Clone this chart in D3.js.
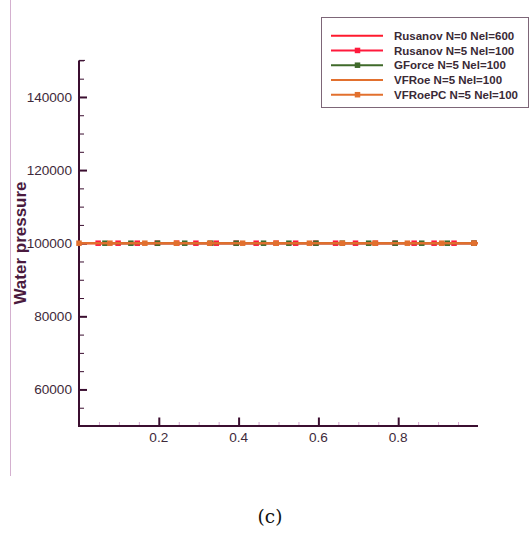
<!DOCTYPE html>
<html>
<head>
<meta charset="utf-8">
<script src="https://cdn.jsdelivr.net/npm/d3@7"></script>
<style>
  html, body { margin: 0; padding: 0; background: #fff; }
  svg { display: block; }
</style>
</head>
<body>
<div id="chart"></div>
<script>
// Water pressure along the domain for each scheme (constant state, p = 1e5)
const seriesNames = [
  "Rusanov N=0 Nel=600",
  "Rusanov N=5 Nel=100",
  "GForce N=5 Nel=100",
  "VFRoe N=5 Nel=100",
  "VFRoePC N=5 Nel=100"
];
const seriesColors = ["#ff1a2e", "#ff1a3c", "#3f6a2a", "#e2702e", "#e2702e"];
const seriesMarkers = [false, true, true, false, true];

// Rusanov N=0 Nel=600 (line only)
const rusanovN0X = [0, 1];
const rusanovN0P = [100000, 100000];

// Rusanov N=5 Nel=100 (marked)
const rusanovN5X = [0.048, 0.098, 0.146, 0.196, 0.245, 0.293, 0.344, 0.394, 0.444, 0.494,
                    0.543, 0.593, 0.643, 0.693, 0.743, 0.792, 0.840, 0.890, 0.940, 0.990];
const rusanovN5P = [100000, 100000, 100000, 100000, 100000, 100000, 100000, 100000, 100000, 100000,
                    100000, 100000, 100000, 100000, 100000, 100000, 100000, 100000, 100000, 100000];

// GForce N=5 Nel=100 (marked)
const gforceX = [0.065, 0.130, 0.197, 0.265, 0.330, 0.394, 0.4625, 0.526, 0.594, 0.660,
                 0.726, 0.7925, 0.859, 0.923, 0.990];
const gforceP = [100000, 100000, 100000, 100000, 100000, 100000, 100000, 100000, 100000, 100000,
                 100000, 100000, 100000, 100000, 100000];

// VFRoe N=5 Nel=100 (line only)
const vfroeX = [0, 1];
const vfroeP = [100000, 100000];

// VFRoePC N=5 Nel=100 (marked)
const vfroepcX = [0, 0.0775, 0.165, 0.244, 0.3275, 0.41, 0.494, 0.5775, 0.66, 0.742,
                  0.823, 0.909, 0.99];
const vfroepcP = [100000, 100000, 100000, 100000, 100000, 100000, 100000, 100000, 100000, 100000,
                  100000, 100000, 100000];

// Axis ticks
const xMajorTicks = [0.2, 0.4, 0.6, 0.8];
const xTickLabels = ["0.2", "0.4", "0.6", "0.8"];
const xMinorTicks = [0.05, 0.1, 0.15, 0.25, 0.3, 0.35, 0.45, 0.5, 0.55, 0.65, 0.7, 0.75, 0.85, 0.9, 0.95];
const yMajorTicks = [60000, 80000, 100000, 120000, 140000];
const yTickLabels = ["60000", "80000", "100000", "120000", "140000"];
const yMinorTicks = [55000, 65000, 70000, 75000, 85000, 90000, 95000, 105000, 110000, 115000,
                     125000, 130000, 135000, 145000, 150000];

const xs = [rusanovN0X, rusanovN5X, gforceX, vfroeX, vfroepcX];
const ps = [rusanovN0P, rusanovN5P, gforceP, vfroeP, vfroepcP];
const series = seriesNames.map((name, i) => ({
  name, color: seriesColors[i], marker: seriesMarkers[i],
  points: xs[i].map((x, j) => ({ x, p: ps[i][j] }))
}));

const W = 530, H = 533;
const svg = d3.select("#chart").append("svg").attr("width", W).attr("height", H);

const x = d3.scaleLinear().domain([0, 1]).range([79, 478]);
const y = d3.scaleLinear().domain([50000, 150000]).range([426, 60.4]);

const axisColor = "#3b0e30";
const labelColor = "#3e2a3a";
const font = "'Liberation Sans', Arial, sans-serif";

// thin frame line on the left edge
svg.append("line").attr("x1", 10.5).attr("x2", 10.5).attr("y1", 0).attr("y2", 476)
  .attr("stroke", "#d4b0cf").attr("stroke-width", 1);

// Y axis: inward ticks, labels drawn separately
const yAxisG = svg.append("g");
yAxisG.append("g").attr("transform", `translate(${x(0)},0)`)
  .call(d3.axisRight(y).tickValues(yMinorTicks).tickSize(5).tickFormat(""))
  .call(g => g.select(".domain").remove())
  .call(g => g.selectAll("line").attr("stroke", axisColor).attr("stroke-width", 1));
yAxisG.append("g").attr("transform", `translate(${x(0)},0)`)
  .call(d3.axisRight(y).tickValues(yMajorTicks).tickSize(8).tickFormat(""))
  .call(g => g.select(".domain").remove())
  .call(g => g.selectAll("line").attr("stroke", axisColor).attr("stroke-width", 2));
yAxisG.selectAll("text.ylab").data(yMajorTicks).join("text")
  .attr("class", "ylab")
  .attr("x", 72).attr("y", d => y(d)).attr("dy", "0.36em")
  .attr("text-anchor", "end")
  .attr("font-family", font).attr("font-size", 13.6)
  .attr("fill", labelColor)
  .text((d, i) => yTickLabels[i]);

// X axis
const xAxisG = svg.append("g");
xAxisG.append("g").attr("transform", `translate(0,${y(50000)})`)
  .call(d3.axisTop(x).tickValues(xMinorTicks).tickSize(4).tickFormat(""))
  .call(g => g.select(".domain").remove())
  .call(g => g.selectAll("line").attr("stroke", "#d9a8d2").attr("stroke-width", 1));
xAxisG.append("g").attr("transform", `translate(0,${y(50000)})`)
  .call(d3.axisTop(x).tickValues(xMajorTicks).tickSize(8.5).tickFormat(""))
  .call(g => g.select(".domain").remove())
  .call(g => g.selectAll("line").attr("stroke", axisColor).attr("stroke-width", 2));
xAxisG.selectAll("text.xlab").data(xMajorTicks).join("text")
  .attr("class", "xlab")
  .attr("x", d => x(d)).attr("y", 442)
  .attr("text-anchor", "middle")
  .attr("font-family", font).attr("font-size", 13.6)
  .attr("fill", labelColor)
  .text((d, i) => xTickLabels[i]);

// axis lines
svg.append("path")
  .attr("d", `M${x(0)},${y(150000)}V${y(50000)}H${x(1)}`)
  .attr("fill", "none").attr("stroke", axisColor).attr("stroke-width", 2);
svg.append("line").attr("x1", x(0)).attr("x2", x(0) + 6)
  .attr("y1", y(150000)).attr("y2", y(150000))
  .attr("stroke", axisColor).attr("stroke-width", 1);

// Y axis title
svg.append("text")
  .attr("transform", `translate(25.5,243) rotate(-90)`)
  .attr("text-anchor", "middle")
  .attr("font-family", font).attr("font-weight", "bold").attr("font-size", 17)
  .attr("fill", "#4a1a3e")
  .text("Water pressure");

// Series
const line = d3.line().x(d => x(d.x)).y(d => y(d.p));
const ms = 5.5;
series.forEach(s => {
  const g = svg.append("g");
  g.append("path").datum(s.points)
    .attr("d", line).attr("fill", "none")
    .attr("stroke", s.color).attr("stroke-width", 2);
  if (s.marker) {
    g.selectAll("rect").data(s.points).join("rect")
      .attr("x", d => x(d.x) - ms / 2).attr("y", d => y(d.p) - ms / 2)
      .attr("width", ms).attr("height", ms)
      .attr("fill", s.color);
  }
});

// Legend
const lg = svg.append("g");
lg.append("rect").attr("x", 321.5).attr("y", 17.5).attr("width", 207).attr("height", 90)
  .attr("fill", "#fff").attr("stroke", "#7d6678").attr("stroke-width", 1);
series.forEach((s, i) => {
  const ly = 35.7 + i * 14.75;
  lg.append("line").attr("x1", 331).attr("x2", 383).attr("y1", ly).attr("y2", ly)
    .attr("stroke", s.color).attr("stroke-width", 2);
  if (s.marker) {
    lg.append("rect").attr("x", 357.5 - ms / 2).attr("y", ly - ms / 2)
      .attr("width", ms).attr("height", ms).attr("fill", s.color);
  }
  lg.append("text").attr("x", 394).attr("y", ly).attr("dy", "0.36em")
    .attr("font-family", font).attr("font-weight", "bold").attr("font-size", 11.5)
    .attr("fill", "#3a2a36")
    .text(s.name);
});

// panel caption
svg.append("text")
  .attr("x", 270).attr("y", 523)
  .attr("text-anchor", "middle")
  .attr("font-family", "'DejaVu Serif', 'Liberation Serif', serif").attr("font-size", 18.5)
  .attr("fill", "#111")
  .text("(c)");
</script>
</body>
</html>
